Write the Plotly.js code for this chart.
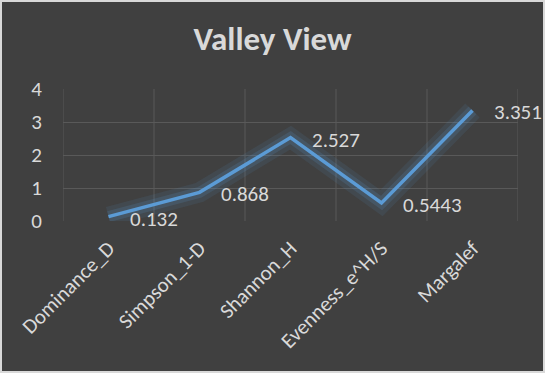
<!DOCTYPE html>
<html><head><meta charset="utf-8">
<script src="https://cdn.plot.ly/plotly-3.0.1.min.js"></script>
<style>html,body{margin:0;padding:0;background:#d9d9d9;}#c{position:absolute;left:2px;top:2px;width:541px;height:369px;}</style>
</head><body><div id="c"></div>
<script>
const categories = ["Dominance_D", "Simpson_1-D", "Shannon_H", "Evenness_e^H/S", "Margalef"];
const values = [0.132, 0.868, 2.527, 0.5443, 3.351];
const labels = ["0.132", "0.868", "2.527", "0.5443", "3.351"];
const yTicks = [0, 1, 2, 3, 4];

const font = "Carlito, Calibri, Lato, 'Open Sans', sans-serif";
const txt = "#d9d9d9";
const grid = "#595959";
const glow1 = {x: categories, y: values, type: "scatter", mode: "lines", hoverinfo: "skip",
  line: {color: "rgba(91,155,213,0.10)", width: 20}, showlegend: false};
const glow2 = {x: categories, y: values, type: "scatter", mode: "lines", hoverinfo: "skip",
  line: {color: "rgba(91,155,213,0.16)", width: 11}, showlegend: false};
const main = {x: categories, y: values, type: "scatter", mode: "lines",
  line: {color: "#5b9bd5", width: 3.5}, showlegend: false};

const annotations = categories.map((c, i) => ({x: c, y: values[i], xref: "x", yref: "y",
  text: labels[i], showarrow: false, xanchor: "left", yanchor: "middle", xshift: 19, yshift: -2,
  font: {family: font, size: 21, color: txt}}));

Plotly.newPlot("c", [glow1, glow2, main], {
  width: 541, height: 369,
  paper_bgcolor: "#404040", plot_bgcolor: "#404040",
  margin: {l: 61, r: 25, t: 87, b: 150, autoexpand: false},
  title: {text: "<b>Valley View</b>", x: 0.5, xanchor: "center", y: 0.901, yanchor: "middle",
    font: {family: font, size: 33, color: txt}},
  xaxis: {type: "category", tickangle: -45, showgrid: false, automargin: false,
    tickfont: {family: font, size: 21, color: txt}, showline: false, ticks: "", zeroline: false,
    range: [-0.5, 4.5], ticklabelstandoff: 10},
  yaxis: {range: [0, 4], tickvals: yTicks, ticktext: yTicks.map(String), automargin: false,
    tickfont: {family: font, size: 21, color: txt}, gridcolor: grid, gridwidth: 1,
    zeroline: false, showline: false, ticks: "", ticklabelstandoff: 20},
  annotations: annotations,
  shapes: [0, 1, 2, 3, 4, 5].map(i => ({type: "line", xref: "x", yref: "paper",
    x0: i - 0.5, x1: i - 0.5, y0: 0, y1: 1, line: {color: grid, width: 1}, layer: "below"}))
}, {displayModeBar: false, staticPlot: true});
</script></body></html>
